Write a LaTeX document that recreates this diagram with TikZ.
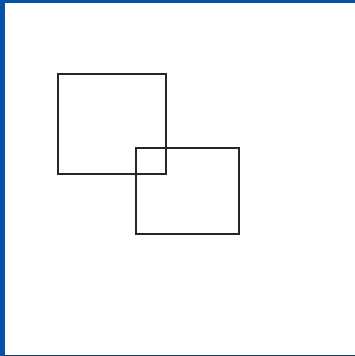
\documentclass[tikz,border=0pt]{standalone}
\usepackage{tikz}
\usetikzlibrary{positioning}
\definecolor{slideblue}{RGB}{6,82,166}
\definecolor{slidedark}{RGB}{12,60,120}
\tikzset{
  frame/.style={
    rectangle, draw=black!85, line width=1.7pt,
    fill=none, inner sep=0pt, outer sep=0pt
  }
}
\begin{document}
\begin{tikzpicture}[x=1pt, y=-1pt]

% Slide background
\fill[white] (0,0) rectangle (355,356);
\useasboundingbox (0,0) rectangle (355,356);
\fill[slideblue] (0,0) rectangle (5,356);
\fill[slideblue] (0,0) rectangle (355,3);
\fill[slidedark] (5,355) rectangle (355,356);

% Overlapping boxes
\node[frame, minimum width=108pt, minimum height=100pt] (left) at (112,123.8) {};
\node[frame, minimum width=102.5pt, minimum height=86pt] (right) at (187.4,190.7) {};

\end{tikzpicture}
\end{document}
